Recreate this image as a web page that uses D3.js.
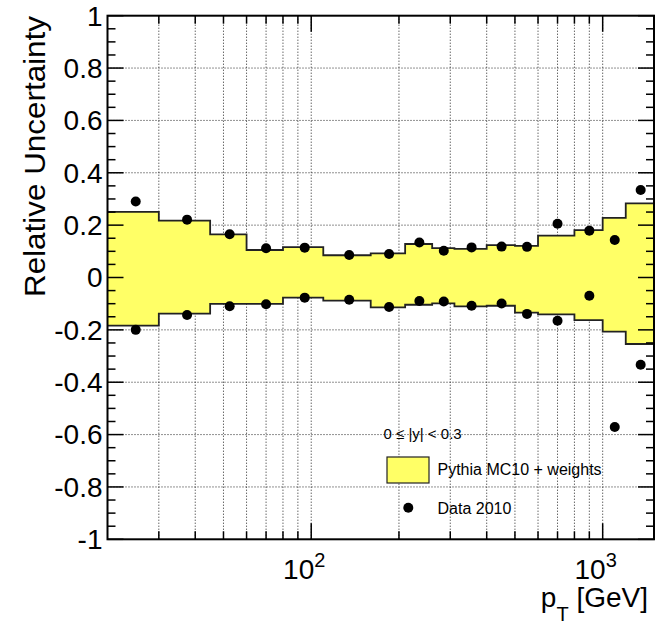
<!DOCTYPE html>
<html>
<head>
<meta charset="utf-8">
<script src="https://cdn.jsdelivr.net/npm/d3@7"></script>
<style>
  body { margin: 0; background: #fff; }
  svg { display: block; }
  text { font-family: "Liberation Sans", Arial, Helvetica, sans-serif; fill: #000; }
</style>
</head>
<body>
<svg id="chart" width="657" height="625"></svg>
<script>
// ---- data ----
const binEdges = [20, 30, 45, 60, 80, 110, 160, 210, 260, 310, 400, 500, 600, 800, 1000, 1200, 1500];
const mcUp   = [0.251, 0.217, 0.165, 0.105, 0.116, 0.085, 0.092, 0.128, 0.112, 0.109, 0.124, 0.121, 0.160, 0.181, 0.228, 0.283];
const mcDown = [-0.184, -0.138, -0.101, -0.101, -0.077, -0.088, -0.114, -0.104, -0.099, -0.110, -0.108, -0.134, -0.141, -0.163, -0.207, -0.254];
const dataUp   = [0.290, 0.221, 0.165, 0.112, 0.114, 0.086, 0.090, 0.134, 0.102, 0.115, 0.118, 0.117, 0.205, 0.179, 0.143, 0.334];
const dataDown = [-0.200, -0.143, -0.110, -0.102, -0.077, -0.085, -0.113, -0.090, -0.092, -0.108, -0.099, -0.139, -0.165, -0.070, -0.571, -0.333];
const yTickValues = [-1, -0.8, -0.6, -0.4, -0.2, 0, 0.2, 0.4, 0.6, 0.8, 1];
const yTickLabels = ["-1", "-0.8", "-0.6", "-0.4", "-0.2", "0", "0.2", "0.4", "0.6", "0.8", "1"];
const xMinorTicks = [30, 40, 50, 60, 70, 80, 90, 200, 300, 400, 500, 600, 700, 800, 900];
const xMajorTicks = [100, 1000];
const xMajorExp = ["2", "3"];
const legendHeader = "0 ≤ |y| < 0.3";
const seriesNames = ["Pythia MC10 + weights", "Data 2010"];
const yTitle = "Relative Uncertainty";

// ---- layout ----
const L = 107.5, R = 654, T = 15.7, B = 539.3;
const x = d3.scaleLog().domain([20, 1500]).range([L, R]);
const y = d3.scaleLinear().domain([-1, 1]).range([B, T]);
const svg = d3.select("#chart");

const yMinor = d3.range(-100, 101, 5).map(v => v / 100);

// grid
const grid = svg.append("g").attr("stroke", "#222").attr("stroke-width", 1).attr("stroke-dasharray", "1,2");
xMinorTicks.concat(xMajorTicks).forEach(v => {
  grid.append("line").attr("x1", x(v)).attr("x2", x(v)).attr("y1", T).attr("y2", B);
});
yTickValues.slice(1, -1).forEach(v => {
  grid.append("line").attr("x1", L).attr("x2", R).attr("y1", y(v)).attr("y2", y(v));
});

// band
const bins = mcUp.map((u, i) => ({ x0: binEdges[i], x1: binEdges[i + 1], up: u, down: mcDown[i] }));
const stepPts = [];
bins.forEach(b => { stepPts.push({ x: b.x0, up: b.up, down: b.down }); stepPts.push({ x: b.x1, up: b.up, down: b.down }); });
const area = d3.area().x(d => x(d.x)).y0(d => y(d.down)).y1(d => y(d.up));
svg.append("path").datum(stepPts).attr("d", area).attr("fill", "#ffff66").attr("stroke", "none");
const lineUp = d3.line().x(d => x(d.x)).y(d => y(d.up));
const lineDown = d3.line().x(d => x(d.x)).y(d => y(d.down));
svg.append("path").datum(stepPts).attr("d", lineUp).attr("fill", "none").attr("stroke", "#222").attr("stroke-width", 1.8);
svg.append("path").datum(stepPts).attr("d", lineDown).attr("fill", "none").attr("stroke", "#222").attr("stroke-width", 1.8);

// data points
const centers = bins.map(b => (b.x0 + b.x1) / 2);
const pts = svg.append("g");
dataUp.forEach((v, i) => {
  pts.append("circle").attr("cx", x(centers[i])).attr("cy", y(v)).attr("r", 5).attr("fill", "#000");
  pts.append("circle").attr("cx", x(centers[i])).attr("cy", y(dataDown[i])).attr("r", 5).attr("fill", "#000");
});

// ticks
const tk = svg.append("g").attr("stroke", "#000").attr("stroke-width", 1.5);
yMinor.forEach(v => {
  const major = Math.abs(Math.round(v * 100) % 20) === 0;
  const len = major ? 16 : 8;
  tk.append("line").attr("x1", L).attr("x2", L + len).attr("y1", y(v)).attr("y2", y(v));
  tk.append("line").attr("x1", R).attr("x2", R - len).attr("y1", y(v)).attr("y2", y(v));
});
xMinorTicks.forEach(v => {
  tk.append("line").attr("x1", x(v)).attr("x2", x(v)).attr("y1", B).attr("y2", B - 8);
  tk.append("line").attr("x1", x(v)).attr("x2", x(v)).attr("y1", T).attr("y2", T + 8);
});
xMajorTicks.forEach(v => {
  tk.append("line").attr("x1", x(v)).attr("x2", x(v)).attr("y1", B).attr("y2", B - 16);
  tk.append("line").attr("x1", x(v)).attr("x2", x(v)).attr("y1", T).attr("y2", T + 16);
});

// frame
svg.append("rect").attr("x", L).attr("y", T).attr("width", R - L).attr("height", B - T)
  .attr("fill", "none").attr("stroke", "#000").attr("stroke-width", 2);

// y tick labels
yTickValues.forEach((v, i) => {
  svg.append("text").attr("x", L - 5).attr("y", y(v)).attr("dy", "0.35em")
    .attr("text-anchor", "end").attr("font-size", 28).text(yTickLabels[i]);
});

// x tick labels 10^n
xMajorTicks.forEach((v, i) => {
  const t = svg.append("text").attr("x", x(v) - 7).attr("y", 579).attr("text-anchor", "middle").attr("font-size", 28);
  t.append("tspan").text("10");
  t.append("tspan").attr("font-size", 20).attr("dy", -12).text(xMajorExp[i]);
});

// axis titles
const xt = svg.append("text").attr("x", 648).attr("y", 607).attr("text-anchor", "end").attr("font-size", 28);
xt.append("tspan").text("p");
xt.append("tspan").attr("font-size", 20).attr("dy", 14).text("T");
xt.append("tspan").attr("dy", -14).text(" [GeV]");

svg.append("text").attr("transform", "translate(45,16) rotate(-90)")
  .attr("text-anchor", "end").attr("font-size", 29)
  .attr("textLength", 281).attr("lengthAdjust", "spacingAndGlyphs").text(yTitle);

// legend
svg.append("text").attr("x", 383.5).attr("y", 439).attr("font-size", 15).text(legendHeader);
svg.append("rect").attr("x", 387).attr("y", 457).attr("width", 42).attr("height", 26)
  .attr("fill", "#ffff66").attr("stroke", "#222").attr("stroke-width", 1.2);
svg.append("text").attr("x", 437.5).attr("y", 475).attr("font-size", 16).text(seriesNames[0]);
svg.append("circle").attr("cx", 408.3).attr("cy", 507.7).attr("r", 5).attr("fill", "#000");
svg.append("text").attr("x", 437.5).attr("y", 514).attr("font-size", 16).text(seriesNames[1]);
</script>
</body>
</html>
